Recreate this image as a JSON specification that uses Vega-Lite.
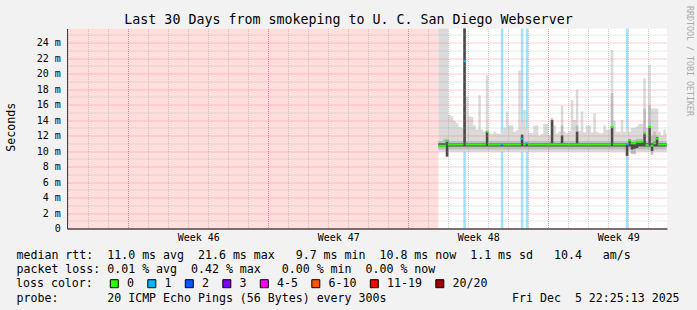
{
  "$schema": "https://vega.github.io/schema/vega-lite/v6.json",
  "width": 600,
  "height": 200,
  "autosize": {"type": "none"},
  "padding": {"left": 67, "top": 28.5, "right": 30, "bottom": 81.5},
  "background": "#f2f2f2",
  "config": {"view": {"fill": "white", "stroke": null}, "font": "DejaVu Sans Mono"},
  "title": {
    "text": "Last 30 Days from smokeping to U. C. San Diego Webserver",
    "font": "DejaVu Sans Mono", "fontSize": 13.3, "fontWeight": "normal", "color": "black",
    "anchor": "middle", "frame": "group", "dx": -18.5, "dy": 36, "offset": 4.5, "baseline": "alphabetic"
  },
  "datasets": {
    "unknown": [{"from": "2025-11-05T22:25:13", "to": "2025-11-24T12:00:00"}],
    "ping": [
      {"t":"2025-11-24T12:00","lo":9.9,"q1":10.2,"d1":10.6,"med":10.7,"d2":11.0,"q3":11.3,"hi":26,"loss":"0"},
      {"t":"2025-11-24T15:00","lo":9.9,"q1":10.2,"d1":10.6,"med":10.7,"d2":11.0,"q3":11.3,"hi":26,"loss":"0"},
      {"t":"2025-11-24T18:00","lo":9.9,"q1":10.2,"d1":10.6,"med":10.7,"d2":11.0,"q3":11.6,"hi":26,"loss":"0"},
      {"t":"2025-11-24T21:00","lo":9.2,"q1":9.3,"d1":9.3,"med":11.3,"d2":11.4,"q3":11.6,"hi":26,"loss":"0"},
      {"t":"2025-11-25T00:00","lo":9.9,"q1":10.2,"d1":10.6,"med":10.85,"d2":11.0,"q3":11.3,"hi":14.7,"loss":"0"},
      {"t":"2025-11-25T03:00","lo":9.9,"q1":10.2,"d1":10.6,"med":10.85,"d2":11.0,"q3":11.3,"hi":14.5,"loss":"0"},
      {"t":"2025-11-25T06:00","lo":9.9,"q1":10.2,"d1":10.6,"med":10.85,"d2":11.0,"q3":11.3,"hi":13.9,"loss":"0"},
      {"t":"2025-11-25T09:00","lo":9.9,"q1":10.2,"d1":10.6,"med":10.85,"d2":11.0,"q3":11.3,"hi":13.6,"loss":"0"},
      {"t":"2025-11-25T12:00","lo":9.9,"q1":10.2,"d1":10.6,"med":10.85,"d2":11.0,"q3":11.3,"hi":13.1,"loss":"0"},
      {"t":"2025-11-25T15:00","lo":9.9,"q1":10.2,"d1":10.6,"med":10.85,"d2":11.0,"q3":11.3,"hi":13.0,"loss":"0"},
      {"t":"2025-11-25T18:00","lo":9.9,"q1":10.2,"d1":10.6,"med":21.6,"d2":26,"q3":26,"hi":26,"loss":"1"},
      {"t":"2025-11-25T21:00","lo":9.9,"q1":10.2,"d1":10.6,"med":10.85,"d2":11.0,"q3":11.3,"hi":17.0,"loss":"0"},
      {"t":"2025-11-26T00:00","lo":9.9,"q1":10.2,"d1":10.6,"med":10.85,"d2":11.0,"q3":11.3,"hi":14.5,"loss":"0"},
      {"t":"2025-11-26T03:00","lo":9.9,"q1":10.2,"d1":10.6,"med":10.85,"d2":11.0,"q3":11.3,"hi":14.4,"loss":"0"},
      {"t":"2025-11-26T06:00","lo":9.9,"q1":10.2,"d1":10.6,"med":10.85,"d2":11.0,"q3":11.3,"hi":13.3,"loss":"0"},
      {"t":"2025-11-26T09:00","lo":9.9,"q1":10.2,"d1":10.6,"med":10.85,"d2":11.0,"q3":11.3,"hi":12.8,"loss":"0"},
      {"t":"2025-11-26T12:00","lo":9.9,"q1":10.2,"d1":10.6,"med":10.85,"d2":11.0,"q3":11.3,"hi":17.2,"loss":"0"},
      {"t":"2025-11-26T15:00","lo":9.9,"q1":10.2,"d1":10.6,"med":10.85,"d2":11.0,"q3":11.3,"hi":12.8,"loss":"0"},
      {"t":"2025-11-26T18:00","lo":9.9,"q1":10.2,"d1":10.6,"med":10.85,"d2":11.0,"q3":11.3,"hi":12.5,"loss":"0"},
      {"t":"2025-11-26T21:00","lo":9.9,"q1":10.2,"d1":10.6,"med":12.5,"d2":12.5,"q3":12.6,"hi":19.8,"loss":"0"},
      {"t":"2025-11-27T00:00","lo":9.9,"q1":10.2,"d1":10.6,"med":10.85,"d2":11.0,"q3":11.3,"hi":12.3,"loss":"0"},
      {"t":"2025-11-27T03:00","lo":9.9,"q1":10.2,"d1":10.6,"med":10.85,"d2":11.0,"q3":11.3,"hi":12.2,"loss":"0"},
      {"t":"2025-11-27T06:00","lo":9.9,"q1":10.2,"d1":10.6,"med":10.85,"d2":11.0,"q3":11.3,"hi":12.5,"loss":"0"},
      {"t":"2025-11-27T09:00","lo":9.9,"q1":10.2,"d1":10.6,"med":10.85,"d2":11.0,"q3":11.3,"hi":12.3,"loss":"0"},
      {"t":"2025-11-27T12:00","lo":9.9,"q1":10.2,"d1":10.6,"med":10.85,"d2":11.0,"q3":11.3,"hi":12.2,"loss":"0"},
      {"t":"2025-11-27T15:00","lo":9.9,"q1":10.2,"d1":10.6,"med":10.9,"d2":11.0,"q3":11.3,"hi":12.5,"loss":"1"},
      {"t":"2025-11-27T18:00","lo":9.9,"q1":10.2,"d1":10.6,"med":10.85,"d2":11.0,"q3":11.3,"hi":13.0,"loss":"0"},
      {"t":"2025-11-27T21:00","lo":9.9,"q1":10.2,"d1":10.6,"med":10.85,"d2":11.0,"q3":11.3,"hi":15.1,"loss":"0"},
      {"t":"2025-11-28T00:00","lo":9.9,"q1":10.2,"d1":10.6,"med":10.85,"d2":11.0,"q3":11.3,"hi":13.3,"loss":"0"},
      {"t":"2025-11-28T03:00","lo":9.9,"q1":10.2,"d1":10.6,"med":10.85,"d2":11.0,"q3":11.3,"hi":13.3,"loss":"0"},
      {"t":"2025-11-28T06:00","lo":9.9,"q1":10.2,"d1":10.6,"med":10.85,"d2":11.0,"q3":11.3,"hi":12.5,"loss":"0"},
      {"t":"2025-11-28T09:00","lo":9.9,"q1":10.2,"d1":10.6,"med":10.85,"d2":11.0,"q3":11.3,"hi":12.7,"loss":"0"},
      {"t":"2025-11-28T12:00","lo":9.9,"q1":10.2,"d1":10.6,"med":10.85,"d2":11.0,"q3":11.3,"hi":20.4,"loss":"0"},
      {"t":"2025-11-28T15:00","lo":9.9,"q1":10.2,"d1":10.6,"med":11.6,"d2":12.1,"q3":12.2,"hi":13.5,"loss":"1"},
      {"t":"2025-11-28T18:00","lo":9.9,"q1":10.2,"d1":10.6,"med":10.85,"d2":11.0,"q3":11.3,"hi":15.3,"loss":"0"},
      {"t":"2025-11-28T21:00","lo":9.9,"q1":10.2,"d1":10.6,"med":11.0,"d2":11.0,"q3":11.3,"hi":13.0,"loss":"1"},
      {"t":"2025-11-29T00:00","lo":9.9,"q1":10.2,"d1":10.6,"med":10.85,"d2":11.0,"q3":11.3,"hi":12.3,"loss":"0"},
      {"t":"2025-11-29T03:00","lo":9.9,"q1":10.2,"d1":10.6,"med":10.85,"d2":11.0,"q3":11.3,"hi":12.3,"loss":"0"},
      {"t":"2025-11-29T06:00","lo":9.9,"q1":10.2,"d1":10.6,"med":10.85,"d2":11.0,"q3":11.3,"hi":13.3,"loss":"0"},
      {"t":"2025-11-29T09:00","lo":9.9,"q1":10.2,"d1":10.6,"med":10.85,"d2":11.0,"q3":11.3,"hi":13.3,"loss":"0"},
      {"t":"2025-11-29T12:00","lo":9.9,"q1":10.2,"d1":10.6,"med":10.85,"d2":11.0,"q3":11.3,"hi":12.0,"loss":"0"},
      {"t":"2025-11-29T15:00","lo":9.9,"q1":10.2,"d1":10.6,"med":10.85,"d2":11.0,"q3":11.3,"hi":12.2,"loss":"0"},
      {"t":"2025-11-29T18:00","lo":9.9,"q1":10.2,"d1":10.6,"med":10.85,"d2":11.0,"q3":11.3,"hi":13.5,"loss":"0"},
      {"t":"2025-11-29T21:00","lo":9.9,"q1":10.2,"d1":10.6,"med":10.85,"d2":11.0,"q3":11.3,"hi":13.5,"loss":"0"},
      {"t":"2025-11-30T00:00","lo":9.9,"q1":10.2,"d1":10.6,"med":10.85,"d2":11.0,"q3":11.3,"hi":12.0,"loss":"0"},
      {"t":"2025-11-30T03:00","lo":9.9,"q1":10.2,"d1":10.6,"med":10.85,"d2":14.0,"q3":14.1,"hi":14.3,"loss":"0"},
      {"t":"2025-11-30T06:00","lo":9.9,"q1":10.2,"d1":10.6,"med":10.85,"d2":11.0,"q3":11.3,"hi":13.3,"loss":"0"},
      {"t":"2025-11-30T09:00","lo":9.9,"q1":10.2,"d1":10.6,"med":10.85,"d2":11.0,"q3":11.3,"hi":12.3,"loss":"0"},
      {"t":"2025-11-30T12:00","lo":9.9,"q1":10.2,"d1":10.6,"med":10.85,"d2":11.0,"q3":11.3,"hi":12.5,"loss":"0"},
      {"t":"2025-11-30T15:00","lo":9.9,"q1":10.2,"d1":10.6,"med":10.85,"d2":12.0,"q3":13.3,"hi":15.9,"loss":"0"},
      {"t":"2025-11-30T18:00","lo":9.9,"q1":10.2,"d1":10.6,"med":10.85,"d2":11.0,"q3":11.3,"hi":12.5,"loss":"0"},
      {"t":"2025-11-30T21:00","lo":9.9,"q1":10.2,"d1":10.6,"med":10.85,"d2":11.0,"q3":11.3,"hi":12.3,"loss":"0"},
      {"t":"2025-12-01T00:00","lo":9.9,"q1":10.2,"d1":10.6,"med":10.85,"d2":11.0,"q3":11.3,"hi":12.6,"loss":"0"},
      {"t":"2025-12-01T03:00","lo":9.9,"q1":10.2,"d1":10.6,"med":10.85,"d2":11.0,"q3":11.3,"hi":16.6,"loss":"0"},
      {"t":"2025-12-01T06:00","lo":9.9,"q1":10.2,"d1":10.6,"med":10.85,"d2":11.0,"q3":11.3,"hi":14.0,"loss":"0"},
      {"t":"2025-12-01T09:00","lo":9.9,"q1":10.2,"d1":10.6,"med":10.85,"d2":12.5,"q3":13.3,"hi":17.9,"loss":"0"},
      {"t":"2025-12-01T12:00","lo":9.9,"q1":10.2,"d1":10.6,"med":10.85,"d2":11.0,"q3":11.3,"hi":12.6,"loss":"0"},
      {"t":"2025-12-01T15:00","lo":9.9,"q1":10.2,"d1":10.6,"med":10.85,"d2":11.0,"q3":11.3,"hi":15.1,"loss":"0"},
      {"t":"2025-12-01T18:00","lo":9.9,"q1":10.2,"d1":10.6,"med":10.85,"d2":11.0,"q3":11.3,"hi":12.4,"loss":"0"},
      {"t":"2025-12-01T21:00","lo":9.9,"q1":10.2,"d1":10.6,"med":10.85,"d2":11.0,"q3":11.3,"hi":13.3,"loss":"0"},
      {"t":"2025-12-02T00:00","lo":9.9,"q1":10.2,"d1":10.6,"med":10.85,"d2":11.0,"q3":11.3,"hi":13.3,"loss":"0"},
      {"t":"2025-12-02T03:00","lo":9.9,"q1":10.2,"d1":10.6,"med":10.85,"d2":11.0,"q3":11.3,"hi":12.4,"loss":"0"},
      {"t":"2025-12-02T06:00","lo":9.9,"q1":10.2,"d1":10.6,"med":10.85,"d2":11.0,"q3":11.3,"hi":14.9,"loss":"0"},
      {"t":"2025-12-02T09:00","lo":9.9,"q1":10.2,"d1":10.6,"med":10.85,"d2":11.0,"q3":11.3,"hi":12.5,"loss":"0"},
      {"t":"2025-12-02T12:00","lo":9.9,"q1":10.2,"d1":10.6,"med":10.85,"d2":11.0,"q3":11.3,"hi":12.3,"loss":"0"},
      {"t":"2025-12-02T15:00","lo":9.9,"q1":10.2,"d1":10.6,"med":10.85,"d2":11.0,"q3":11.3,"hi":12.3,"loss":"0"},
      {"t":"2025-12-02T18:00","lo":9.9,"q1":10.2,"d1":10.6,"med":10.85,"d2":11.0,"q3":11.3,"hi":13.3,"loss":"0"},
      {"t":"2025-12-02T21:00","lo":9.9,"q1":10.2,"d1":10.6,"med":10.85,"d2":11.0,"q3":11.3,"hi":12.8,"loss":"0"},
      {"t":"2025-12-03T00:00","lo":9.9,"q1":10.2,"d1":10.6,"med":10.85,"d2":11.0,"q3":11.3,"hi":12.8,"loss":"0"},
      {"t":"2025-12-03T03:00","lo":9.9,"q1":10.2,"d1":10.6,"med":13.1,"d2":13.1,"q3":17.5,"hi":23.1,"loss":"0"},
      {"t":"2025-12-03T06:00","lo":9.9,"q1":10.2,"d1":10.6,"med":10.85,"d2":11.0,"q3":11.3,"hi":13.9,"loss":"0"},
      {"t":"2025-12-03T09:00","lo":9.9,"q1":10.2,"d1":10.6,"med":10.85,"d2":11.0,"q3":11.3,"hi":12.5,"loss":"0"},
      {"t":"2025-12-03T12:00","lo":9.9,"q1":10.2,"d1":10.6,"med":10.85,"d2":11.0,"q3":11.3,"hi":12.5,"loss":"0"},
      {"t":"2025-12-03T15:00","lo":9.9,"q1":10.2,"d1":10.6,"med":10.85,"d2":11.0,"q3":11.3,"hi":14.0,"loss":"0"},
      {"t":"2025-12-03T18:00","lo":9.9,"q1":10.2,"d1":10.6,"med":10.85,"d2":11.0,"q3":11.3,"hi":12.5,"loss":"0"},
      {"t":"2025-12-03T21:00","lo":9.2,"q1":9.3,"d1":9.4,"med":10.9,"d2":11.0,"q3":11.3,"hi":13.0,"loss":"1"},
      {"t":"2025-12-04T00:00","lo":9.9,"q1":10.2,"d1":10.6,"med":11.4,"d2":11.5,"q3":11.6,"hi":12.5,"loss":"0"},
      {"t":"2025-12-04T03:00","lo":9.6,"q1":9.7,"d1":10.2,"med":11.0,"d2":11.1,"q3":11.4,"hi":13.0,"loss":"0"},
      {"t":"2025-12-04T06:00","lo":9.6,"q1":9.7,"d1":10.3,"med":11.0,"d2":11.1,"q3":11.4,"hi":13.0,"loss":"0"},
      {"t":"2025-12-04T09:00","lo":9.9,"q1":10.2,"d1":10.4,"med":11.2,"d2":11.3,"q3":11.6,"hi":13.2,"loss":"0"},
      {"t":"2025-12-04T12:00","lo":9.9,"q1":10.2,"d1":10.6,"med":11.2,"d2":11.3,"q3":11.6,"hi":13.5,"loss":"0"},
      {"t":"2025-12-04T15:00","lo":9.9,"q1":10.2,"d1":10.6,"med":11.2,"d2":11.3,"q3":11.6,"hi":13.5,"loss":"0"},
      {"t":"2025-12-04T18:00","lo":9.9,"q1":10.2,"d1":10.6,"med":12.3,"d2":12.3,"q3":15.5,"hi":19.4,"loss":"0"},
      {"t":"2025-12-04T21:00","lo":9.9,"q1":10.2,"d1":10.6,"med":10.8,"d2":11.0,"q3":11.3,"hi":13.0,"loss":"0"},
      {"t":"2025-12-05T00:00","lo":9.9,"q1":10.2,"d1":10.6,"med":13.1,"d2":13.1,"q3":15.9,"hi":21.1,"loss":"0"},
      {"t":"2025-12-05T03:00","lo":9.5,"q1":9.6,"d1":10.0,"med":10.7,"d2":11.0,"q3":12.0,"hi":15.5,"loss":"0"},
      {"t":"2025-12-05T06:00","lo":9.9,"q1":10.2,"d1":10.6,"med":11.0,"d2":11.2,"q3":12.5,"hi":15.5,"loss":"0"},
      {"t":"2025-12-05T09:00","lo":9.9,"q1":10.2,"d1":10.6,"med":11.6,"d2":11.8,"q3":12.0,"hi":15.5,"loss":"0"},
      {"t":"2025-12-05T12:00","lo":9.9,"q1":10.2,"d1":10.6,"med":10.85,"d2":11.0,"q3":11.3,"hi":12.5,"loss":"0"},
      {"t":"2025-12-05T15:00","lo":9.9,"q1":10.2,"d1":10.6,"med":10.85,"d2":11.0,"q3":11.3,"hi":12.0,"loss":"0"},
      {"t":"2025-12-05T18:00","lo":9.9,"q1":10.2,"d1":10.6,"med":10.85,"d2":11.0,"q3":11.3,"hi":12.8,"loss":"0"},
      {"t":"2025-12-05T21:00","lo":9.9,"q1":10.2,"d1":10.6,"med":10.85,"d2":11.0,"q3":11.3,"hi":12.3,"loss":"0"},
      {"t":"2025-12-05T22:00","lo":9.9,"q1":10.2,"d1":10.6,"med":10.85,"d2":11.0,"q3":11.3,"hi":12.3,"loss":"0"}
    ]
  },
  "layer": [
    {
      "data": {"name": "unknown"},
      "mark": {"type": "rect", "color": "#ffdede"},
      "encoding": {
        "x": {"field": "from", "type": "temporal", "axis": null,
              "scale": {"domain": [{"year":2025,"month":11,"date":5,"hours":22,"minutes":25,"seconds":13},{"year":2025,"month":12,"date":5,"hours":22,"minutes":25,"seconds":13}]}},
        "x2": {"field": "to"}
      }
    },
    {
      "data": {"name": "ping"},
      "transform": [{"filter": "datum.loss != '0'"}],
      "mark": {"type": "rule", "strokeWidth": 2.5, "xOffset": 1.25, "color": "#00b8ff", "opacity": 0.38},
      "encoding": {
        "x": {"field": "t", "type": "temporal", "axis": null,
              "scale": {"domain": [{"year":2025,"month":11,"date":5,"hours":22,"minutes":25,"seconds":13},{"year":2025,"month":12,"date":5,"hours":22,"minutes":25,"seconds":13}]}}
      }
    },
    {
      "data": {"name": "ping"},
      "mark": {"type": "area", "interpolate": "step-after", "color": "#dadada", "clip": true},
      "encoding": {
        "x": {"field": "t", "type": "temporal",
              "scale": {"domain": [{"year":2025,"month":11,"date":5,"hours":22,"minutes":25,"seconds":13},{"year":2025,"month":12,"date":5,"hours":22,"minutes":25,"seconds":13}]},
              "axis": {
                "orient": "bottom", "zindex": 1,
                "values": [{"year":2025,"month":11,"date":6},{"year":2025,"month":11,"date":7},{"year":2025,"month":11,"date":8},{"year":2025,"month":11,"date":9},{"year":2025,"month":11,"date":10},{"year":2025,"month":11,"date":11},{"year":2025,"month":11,"date":12},{"year":2025,"month":11,"date":13},{"year":2025,"month":11,"date":14},{"year":2025,"month":11,"date":15},{"year":2025,"month":11,"date":16},{"year":2025,"month":11,"date":17},{"year":2025,"month":11,"date":18},{"year":2025,"month":11,"date":19},{"year":2025,"month":11,"date":20},{"year":2025,"month":11,"date":21},{"year":2025,"month":11,"date":22},{"year":2025,"month":11,"date":23},{"year":2025,"month":11,"date":24},{"year":2025,"month":11,"date":25},{"year":2025,"month":11,"date":26},{"year":2025,"month":11,"date":27},{"year":2025,"month":11,"date":28},{"year":2025,"month":11,"date":29},{"year":2025,"month":11,"date":30},{"year":2025,"month":12,"date":1},{"year":2025,"month":12,"date":2},{"year":2025,"month":12,"date":3},{"year":2025,"month":12,"date":4},{"year":2025,"month":12,"date":5}],
                "grid": true, "gridColor": "#a0a0a0", "gridDash": [1, 1], "gridOpacity": 0.5, "gridWidth": 1,
                "ticks": false, "labels": false, "domain": false,
                "title": ["median rtt:\u00a0\u00a011.0 ms avg\u00a0\u00a021.6 ms max\u00a0\u00a0\u00a09.7 ms min\u00a0\u00a010.8 ms now\u00a0\u00a01.1 ms sd\u00a0\u00a0\u00a010.4\u00a0\u00a0\u00a0am/s",
                          "packet loss: 0.01 % avg\u00a0\u00a00.42 % max\u00a0\u00a0\u00a00.00 % min\u00a0\u00a00.00 % now"],
                "titleX": -51, "titleY": 29.7, "titleAlign": "left", "titleAnchor": "start", "titleBaseline": "alphabetic",
                "titleFont": "DejaVu Sans Mono", "titleFontSize": 11.6, "titleFontWeight": "normal", "titleColor": "black", "titleLineHeight": 14.13
              }},
        "y": {"field": "lo", "type": "quantitative",
              "scale": {"domain": [0, 25.83], "nice": false, "zero": false},
              "axis": {
                "orient": "left", "zindex": 1, "values": [1,3,5,7,9,11,13,15,17,19,21,23,25],
                "grid": true, "gridColor": "#a0a0a0", "gridDash": [1, 1], "gridOpacity": 0.5,
                "ticks": false, "labels": false, "domain": false, "title": null
              }},
        "y2": {"field": "hi"}
      }
    },
    {
      "data": {"name": "ping"},
      "mark": {"type": "area", "interpolate": "step-after", "color": "#bdbdbd", "clip": true},
      "encoding": {
        "x": {"field": "t", "type": "temporal",
              "scale": {"domain": [{"year":2025,"month":11,"date":5,"hours":22,"minutes":25,"seconds":13},{"year":2025,"month":12,"date":5,"hours":22,"minutes":25,"seconds":13}]},
              "axis": {
                "orient": "bottom", "grid": false, "ticks": false, "labels": false, "domain": false,
                "title": "probe:\u00a0\u00a0\u00a0\u00a0\u00a0\u00a0\u00a020 ICMP Echo Pings (56 Bytes) every 300s\u00a0\u00a0\u00a0\u00a0\u00a0\u00a0\u00a0\u00a0\u00a0\u00a0\u00a0\u00a0\u00a0\u00a0\u00a0\u00a0\u00a0\u00a0Fri Dec\u00a0\u00a05 22:25:13 2025",
                "titleX": -51, "titleY": 72.6, "titleAlign": "left", "titleAnchor": "start", "titleBaseline": "alphabetic",
                "titleFont": "DejaVu Sans Mono", "titleFontSize": 11.6, "titleFontWeight": "normal", "titleColor": "black"
              }},
        "y": {"field": "q1", "type": "quantitative",
              "scale": {"domain": [0, 25.83], "nice": false, "zero": false},
              "axis": {
                "orient": "right", "grid": false, "ticks": false, "labels": false, "domain": false,
                "title": "RRDTOOL / TOBI OETIKER", "titleAngle": 90, "titleX": 21, "titleY": -23,
                "titleAlign": "left", "titleBaseline": "middle", "titleFont": "DejaVu Sans Mono",
                "titleFontSize": 8.3, "titleFontWeight": "normal", "titleColor": "#aaaaaa"
              }},
        "y2": {"field": "q3"}
      }
    },
    {
      "data": {"name": "ping"},
      "mark": {"type": "area", "interpolate": "step-after", "color": "#4a4a4a", "clip": true},
      "encoding": {
        "x": {"field": "t", "type": "temporal", "axis": null,
              "scale": {"domain": [{"year":2025,"month":11,"date":5,"hours":22,"minutes":25,"seconds":13},{"year":2025,"month":12,"date":5,"hours":22,"minutes":25,"seconds":13}]}},
        "y": {"field": "d1", "type": "quantitative", "axis": null,
              "scale": {"domain": [0, 25.83], "nice": false, "zero": false}},
        "y2": {"field": "d2"}
      }
    },
    {
      "data": {"name": "ping"},
      "mark": {"type": "tick", "orient": "horizontal", "size": 3, "thickness": 2, "xOffset": 1.25, "opacity": 1, "clip": true},
      "encoding": {
        "x": {"field": "t", "type": "temporal",
              "scale": {"domain": [{"year":2025,"month":11,"date":5,"hours":22,"minutes":25,"seconds":13},{"year":2025,"month":12,"date":5,"hours":22,"minutes":25,"seconds":13}]},
              "axis": {
                "orient": "bottom", "zindex": 1,
                "values": [{"year":2025,"month":11,"date":9},{"year":2025,"month":11,"date":16},{"year":2025,"month":11,"date":23},{"year":2025,"month":11,"date":30}],
                "grid": true, "gridColor": "#ff6060", "gridDash": [1, 1], "gridOpacity": 0.6,
                "ticks": false, "tickSize": 0,
                "labelExpr": "'Week ' + timeFormat(timeOffset('hours', datum.value, 84), '%V')",
                "labelOffset": 70, "labelPadding": 3.5, "labelFont": "DejaVu Sans Mono", "labelFontSize": 10,
                "labelColor": "black", "labelFlush": false, "labelOverlap": false, "labelBound": false,
                "domain": true, "domainColor": "black", "domainWidth": 1, "title": null
              }},
        "y": {"field": "med", "type": "quantitative",
              "scale": {"domain": [0, 25.83], "nice": false, "zero": false},
              "axis": {
                "orient": "left", "zindex": 1, "values": [0,2,4,6,8,10,12,14,16,18,20,22,24],
                "grid": true, "gridColor": "#ff6060", "gridDash": [1, 1], "gridOpacity": 0.6,
                "ticks": false, "tickSize": 0,
                "labelExpr": "datum.value == 0 ? '0' : datum.value + ' m'",
                "labelPadding": 6.7, "labelFont": "DejaVu Sans Mono", "labelFontSize": 10, "labelColor": "black",
                "domain": true, "domainColor": "#404040", "domainWidth": 1,
                "title": "Seconds", "titleX": -55.5, "titleY": 98.2, "titleAngle": -90, "titleAlign": "center",
                "titleBaseline": "middle", "titleFont": "DejaVu Sans Mono", "titleFontSize": 11.6,
                "titleFontWeight": "normal", "titleColor": "black"
              }},
        "color": {"field": "loss", "type": "nominal",
                  "scale": {"domain": ["0","1","2","3","4-5","6-10","11-19","20/20"], "range": ["#26ff00","#00b8ff","#0059ff","#7e00ff","#ff00ff","#ff5500","#ff0000","#a10000"]},
                  "legend": {
                    "orient": "none", "legendX": -51, "legendY": 249.3, "direction": "horizontal", "columns": 8,
                    "title": "loss color:", "titleOrient": "left", "titlePadding": 15.5,
                    "titleFont": "DejaVu Sans Mono", "titleFontSize": 11.6, "titleFontWeight": "normal", "titleColor": "black",
                    "titleAnchor": "middle", "titleBaseline": "middle",
                    "padding": 0, "symbolType": "square", "symbolSize": 64,
                    "symbolStrokeColor": "black", "symbolStrokeWidth": 1,
                    "labelFont": "DejaVu Sans Mono", "labelFontSize": 11.6, "labelColor": "black",
                    "labelOffset": 7, "columnPadding": 10.5,
                    "encode": {"symbols": {"update": {
                      "fill": {"scale": "color", "field": "value"},
                      "stroke": {"value": "black"}, "strokeWidth": {"value": 1},
                      "shape": {"value": "square"}, "opacity": {"value": 1}, "fillOpacity": {"value": 1}}}}
                  }}
      }
    },
    {
      "mark": {"type": "point", "shape": "triangle-right", "filled": true, "color": "#7f0000", "size": 22, "xOffset": 3, "opacity": 1},
      "encoding": {
        "x": {"datum": {"year":2025,"month":12,"date":5,"hours":22,"minutes":25,"seconds":13}, "type": "temporal", "axis": null,
              "scale": {"domain": [{"year":2025,"month":11,"date":5,"hours":22,"minutes":25,"seconds":13},{"year":2025,"month":12,"date":5,"hours":22,"minutes":25,"seconds":13}]}},
        "y": {"datum": 0, "type": "quantitative", "axis": null, "scale": {"domain": [0, 25.83], "nice": false, "zero": false}}
      }
    },
    {
      "mark": {"type": "point", "shape": "triangle-up", "filled": true, "color": "#7f0000", "size": 22, "yOffset": -4.8, "opacity": 1},
      "encoding": {
        "x": {"datum": {"year":2025,"month":11,"date":5,"hours":22,"minutes":25,"seconds":13}, "type": "temporal", "axis": null,
              "scale": {"domain": [{"year":2025,"month":11,"date":5,"hours":22,"minutes":25,"seconds":13},{"year":2025,"month":12,"date":5,"hours":22,"minutes":25,"seconds":13}]}},
        "y": {"datum": 25.83, "type": "quantitative", "axis": null, "scale": {"domain": [0, 25.83], "nice": false, "zero": false}}
      }
    }
  ],
  "resolve": {"axis": {"x": "independent", "y": "independent"}}
}
